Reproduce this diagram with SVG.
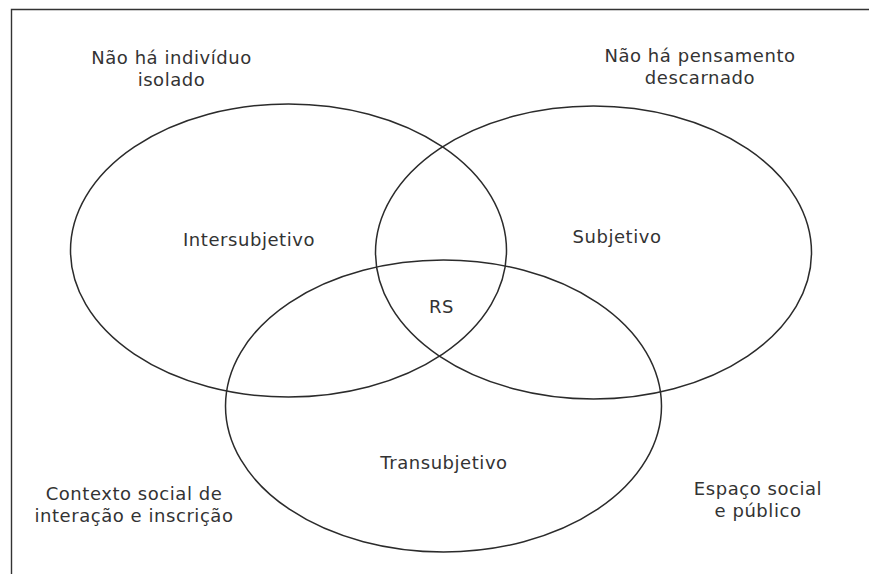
<svg xmlns="http://www.w3.org/2000/svg" width="869" height="574" viewBox="0 0 869 574">
<style>
  .frame { stroke: #333; stroke-width: 1.4; fill: none; }
  .ell { stroke: #2b2b2b; stroke-width: 1.5; fill: none; }
  text { font-family: "DejaVu Sans", "Noto Sans", sans-serif; font-size: 18px; letter-spacing: 0.55px; fill: #333; text-anchor: middle; }
</style>
<rect width="869" height="574" fill="#fff"/>
<g id="frame">
  <polyline class="frame" points="11.5,574 11.5,9.5 869,9.5"/>
</g>
<g id="connectors"></g>
<g id="intersubjetivo">
  <ellipse class="ell" cx="288.5" cy="250.5" rx="218" ry="146.5"/>
  <text x="249" y="246">Intersubjetivo</text>
</g>
<g id="subjetivo">
  <ellipse class="ell" cx="593.5" cy="252.5" rx="218" ry="146.5"/>
  <text x="617" y="243">Subjetivo</text>
</g>
<g id="transubjetivo">
  <ellipse class="ell" cx="443.5" cy="406" rx="218" ry="146"/>
  <text x="444" y="469">Transubjetivo</text>
</g>
<g id="rs">
  <text x="441.5" y="313">RS</text>
</g>
<g id="label-individuo">
  <text x="171.5" y="64">Não há indivíduo</text>
  <text x="171.5" y="86">isolado</text>
</g>
<g id="label-pensamento">
  <text x="700" y="62">Não há pensamento</text>
  <text x="700" y="84">descarnado</text>
</g>
<g id="label-contexto">
  <text x="134" y="500">Contexto social de</text>
  <text x="134" y="522">interação e inscrição</text>
</g>
<g id="label-espaco">
  <text x="758" y="495">Espaço social</text>
  <text x="758" y="517">e público</text>
</g>
</svg>
